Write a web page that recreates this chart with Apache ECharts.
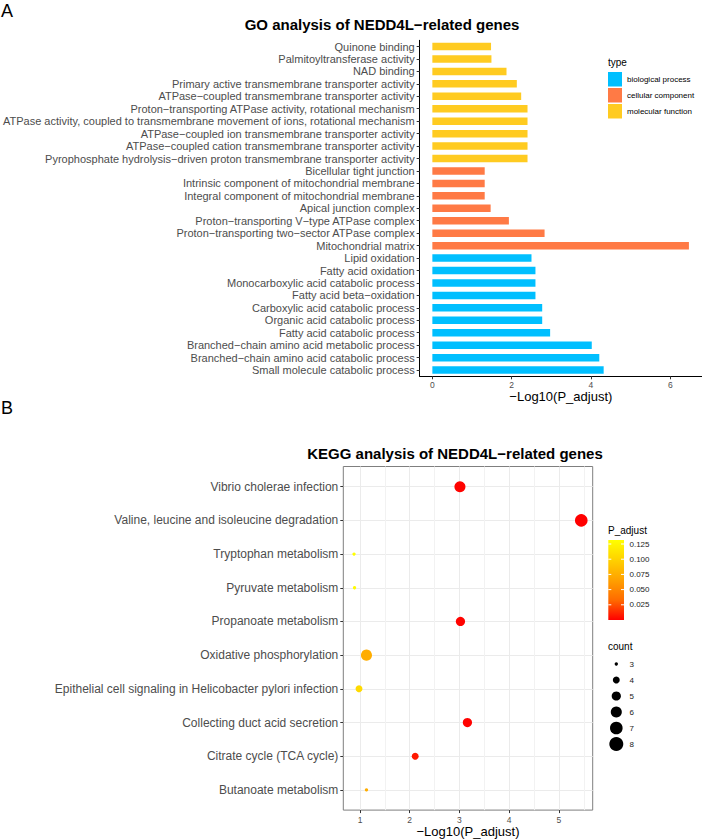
<!DOCTYPE html>
<html><head><meta charset="utf-8">
<script src="https://cdn.jsdelivr.net/npm/echarts@6/dist/echarts.min.js"></script>
<style>html,body{margin:0;padding:0;background:#fff}#c{width:702px;height:839px}</style>
</head><body><div id="c"></div>
<script>
// ---------- GO data ----------
const goTerms = [
  'Quinone binding',
  'Palmitoyltransferase activity',
  'NAD binding',
  'Primary active transmembrane transporter activity',
  'ATPase\u2212coupled transmembrane transporter activity',
  'Proton\u2212transporting ATPase activity, rotational mechanism',
  'ATPase activity, coupled to transmembrane movement of ions, rotational mechanism',
  'ATPase\u2212coupled ion transmembrane transporter activity',
  'ATPase\u2212coupled cation transmembrane transporter activity',
  'Pyrophosphate hydrolysis\u2212driven proton transmembrane transporter activity',
  'Bicellular tight junction',
  'Intrinsic component of mitochondrial membrane',
  'Integral component of mitochondrial membrane',
  'Apical junction complex',
  'Proton\u2212transporting V\u2212type ATPase complex',
  'Proton\u2212transporting two\u2212sector ATPase complex',
  'Mitochondrial matrix',
  'Lipid oxidation',
  'Fatty acid oxidation',
  'Monocarboxylic acid catabolic process',
  'Fatty acid beta\u2212oxidation',
  'Carboxylic acid catabolic process',
  'Organic acid catabolic process',
  'Fatty acid catabolic process',
  'Branched\u2212chain amino acid metabolic process',
  'Branched\u2212chain amino acid catabolic process',
  'Small molecule catabolic process'
];
const goValues = [1.48,1.49,1.87,2.13,2.24,2.40,2.40,2.40,2.40,2.40,
                  1.32,1.32,1.32,1.47,1.93,2.83,6.47,
                  2.50,2.60,2.60,2.60,2.77,2.77,2.97,4.02,4.21,4.32];
const MF='molecular function', CC='cellular component', BP='biological process';
const goTypes = [MF,MF,MF,MF,MF,MF,MF,MF,MF,MF,
                 CC,CC,CC,CC,CC,CC,CC,
                 BP,BP,BP,BP,BP,BP,BP,BP,BP,BP];
const typeNames = [BP, CC, MF];
const typeColors = ['#00BFFF','#FF7A45','#FFCB21'];
const goTicks = [0,2,4,6];

// ---------- KEGG data ----------
const keggTerms = [
  'Vibrio cholerae infection',
  'Valine, leucine and isoleucine degradation',
  'Tryptophan metabolism',
  'Pyruvate metabolism',
  'Propanoate metabolism',
  'Oxidative phosphorylation',
  'Epithelial cell signaling in Helicobacter pylori infection',
  'Collecting duct acid secretion',
  'Citrate cycle (TCA cycle)',
  'Butanoate metabolism'
];
const keggX = [3.01,5.45,0.88,0.89,3.02,1.13,0.98,3.16,2.11,1.13];
const keggCount = [6,7,3,3,5,6,4,5,4,3];
const keggP = [0.00098,0.0000035,0.132,0.129,0.00095,0.074,0.105,0.00069,0.0078,0.074];
const keggTicks = [1,2,3,4,5];
const keggMinor = [1.5,2.5,3.5,4.5,5.5];
const pBreaks = [0.125,0.100,0.075,0.050,0.025];
const pLabels = ['0.125','0.100','0.075','0.050','0.025'];
const countBreaks = [3,4,5,6,7,8];

// ---------- helpers ----------
const FONT = '"Liberation Sans", Arial, Helvetica, sans-serif';
const sizeOf = c => Math.sqrt(11 + 37 * (c - 3));
const colorStops = ['#FF0000','#FF6B00','#FFA100','#FFD100','#FFFF00'];
const pMin = 0, pMax = 0.1316;
const cb = {x: 608.3, y: 540, w: 15.7, h: 80};
const pY = p => cb.y + cb.h - (p - pMin) / (pMax - pMin) * cb.h;

function txt(text, x, y, size, opts) {
  opts = opts || {};
  return {
    type: 'text', x: x, y: y, silent: true,
    style: {
      text: text, fontSize: size, fontFamily: FONT,
      fontWeight: opts.bold ? 'bold' : 'normal',
      fill: opts.fill || '#000',
      align: opts.align || 'left', textAlign: opts.align || 'left',
      verticalAlign: opts.va || 'middle', textVerticalAlign: opts.va || 'middle'
    }
  };
}

const graphics = [];
graphics.push(txt('A', 1, 2, 18, {va: 'top'}));
graphics.push(txt('B', 1, 399, 18, {va: 'top'}));
graphics.push(txt('GO analysis of NEDD4L\u2212related genes', 382, 24, 15, {bold: true, align: 'center'}));
graphics.push(txt('KEGG analysis of NEDD4L\u2212related genes', 455, 453, 15, {bold: true, align: 'center'}));
graphics.push(txt('type', 608, 62, 10));
graphics.push(txt('P_adjust', 608, 530, 10));
graphics.push(txt('count', 608, 646, 10));

// colour bar
graphics.push({
  type: 'rect', silent: true,
  shape: {x: cb.x, y: cb.y, width: cb.w, height: cb.h},
  style: {fill: new echarts.graphic.LinearGradient(0, 0, 0, 1,
    colorStops.slice().reverse().map((c, i, a) => ({offset: i / (a.length - 1), color: c})))}
});
pBreaks.forEach((p, i) => {
  const y = pY(p);
  graphics.push({type: 'line', silent: true, shape: {x1: cb.x, y1: y, x2: cb.x + 3, y2: y}, style: {stroke: '#fff', lineWidth: 1}});
  graphics.push({type: 'line', silent: true, shape: {x1: cb.x + cb.w - 3, y1: y, x2: cb.x + cb.w, y2: y}, style: {stroke: '#fff', lineWidth: 1}});
  graphics.push(txt(pLabels[i], 629.5, y, 8, {fill: '#1A1A1A'}));
});
// count legend
countBreaks.forEach((c, i) => {
  const y = 664 + i * 16;
  graphics.push({type: 'circle', silent: true, shape: {cx: 616.3, cy: y, r: sizeOf(c) / 2}, style: {fill: '#000'}});
  graphics.push(txt(String(c), 629.5, y, 8, {fill: '#1A1A1A'}));
});

const goSeries = typeNames.map((name, k) => ({
  type: 'bar', name: name, xAxisIndex: 0, yAxisIndex: 0,
  data: goValues.map((v, i) => goTypes[i] === name ? v : '-'),
  barWidth: 7.5, barGap: '-100%', silent: true,
  itemStyle: {color: typeColors[k]}
}));

const keggData = keggTerms.map((t, i) => [keggX[i], i, keggCount[i], keggP[i]]);

const chart = echarts.init(document.getElementById('c'), null, {renderer: 'svg', width: 702, height: 839});
chart.setOption({
  animation: false,
  backgroundColor: '#fff',
  textStyle: {fontFamily: FONT},
  grid: [
    {left: 417, top: 40.3, width: 285, height: 336, containLabel: false},
    {left: 343.3, top: 466.5, width: 249.4, height: 344, show: true, borderColor: '#7F7F7F', borderWidth: 1, backgroundColor: 'transparent'}
  ],
  xAxis: [
    {gridIndex: 0, type: 'value', min: -0.32, max: 6.8,
     axisLine: {show: true, onZero: false, lineStyle: {color: '#000', width: 1}},
     axisTick: {show: true, customValues: goTicks, length: 3, lineStyle: {color: '#333'}},
     axisLabel: {customValues: goTicks, color: '#4D4D4D', fontSize: 8.5, margin: 4, fontFamily: FONT},
     splitLine: {show: false},
     name: '\u2212Log10(P_adjust)', nameLocation: 'middle', nameGap: 14,
     nameTextStyle: {fontSize: 13, color: '#000', fontFamily: FONT}},
    {gridIndex: 1, type: 'value', min: 0.664, max: 5.68,
     axisLine: {show: false, onZero: false},
     axisTick: {show: true, customValues: keggTicks, length: 3, lineStyle: {color: '#333'}},
     axisLabel: {customValues: keggTicks, color: '#4D4D4D', fontSize: 8.5, margin: 5, fontFamily: FONT},
     splitLine: {show: true, lineStyle: {color: '#EBEBEB', width: 1}},
     name: '\u2212Log10(P_adjust)', nameLocation: 'middle', nameGap: 14.5,
     nameTextStyle: {fontSize: 13, color: '#000', fontFamily: FONT}}
  ],
  yAxis: [
    {gridIndex: 0, type: 'category', data: goTerms, inverse: true,
     axisLine: {show: true, onZero: false, lineStyle: {color: '#000', width: 1}},
     axisTick: {show: true, alignWithLabel: true, length: 3, lineStyle: {color: '#333'}},
     axisLabel: {interval: 0, color: '#4D4D4D', fontSize: 11, margin: 5, fontFamily: FONT},
     splitLine: {show: false}},
    {gridIndex: 1, type: 'value', min: -0.6, max: 9.6, inverse: true,
     axisLine: {show: false, onZero: false},
     axisTick: {show: true, customValues: keggTerms.map((t, i) => i), length: 3, lineStyle: {color: '#333'}},
     axisLabel: {customValues: keggTerms.map((t, i) => i), formatter: v => keggTerms[Math.round(v)],
                 color: '#4D4D4D', fontSize: 12, margin: 5, fontFamily: FONT},
     splitLine: {show: true, lineStyle: {color: '#EBEBEB', width: 1}}}
  ],
  legend: {
    data: typeNames, orient: 'vertical', left: 608, top: 72, padding: 0,
    itemWidth: 14, itemHeight: 14.5, itemGap: 1.5, icon: 'rect', selectedMode: false,
    textStyle: {fontSize: 8, color: '#000', fontFamily: FONT}
  },
  visualMap: {
    type: 'continuous', show: false, seriesIndex: 3, dimension: 3,
    min: pMin, max: pMax, inRange: {color: colorStops}
  },
  series: goSeries.concat([
    {type: 'scatter', name: 'kegg', xAxisIndex: 1, yAxisIndex: 1, data: keggData,
     symbolSize: d => sizeOf(d[2]), silent: true, itemStyle: {opacity: 1},
     markLine: {silent: true, symbol: ['none', 'none'], z: 1, label: {show: false},
                lineStyle: {color: '#F2F2F2', width: 1, type: 'solid'},
                data: keggMinor.map(v => ({xAxis: v}))}}
  ]),
  graphic: graphics
});
</script>
</body></html>
